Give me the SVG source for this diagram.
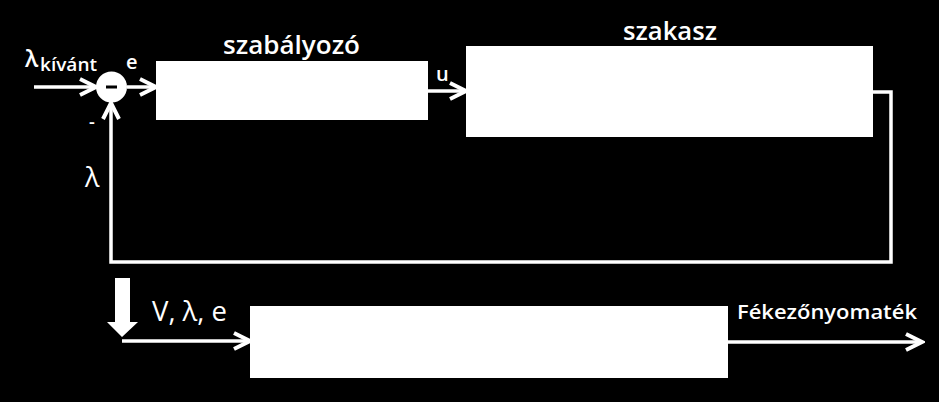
<svg xmlns="http://www.w3.org/2000/svg" width="939" height="402" viewBox="0 0 939 402">
<defs>
<style>
.box{fill:#fff}
.ln{fill:none;stroke:#fff;stroke-width:3.5}
.t{fill:#fff;font-family:"Open Sans","Noto Sans","DejaVu Sans",sans-serif;font-weight:600}
.tn{fill:#fff;font-family:"Open Sans","Noto Sans","DejaVu Sans",sans-serif}
</style>
<marker id="ah" markerUnits="userSpaceOnUse" markerWidth="22" markerHeight="22" viewBox="0 0 22 22" refX="19" refY="11" orient="auto">
<path d="M3,3 L19,11 L3,19" fill="none" stroke="#fff" stroke-width="4"/>
</marker>
</defs>
<rect width="939" height="402" fill="#000"/>
<g id="connectors">
<path class="ln" d="M34,87 L96,87" marker-end="url(#ah)"/>
<path class="ln" d="M127,87 L156,87" marker-end="url(#ah)"/>
<path class="ln" d="M428,91 L466,91" marker-end="url(#ah)"/>
<path class="ln" d="M873,92 L891,92 L891,262 L111,262 L111,103" marker-end="url(#ah)"/>
<path class="ln" d="M122,341 L250,341" marker-end="url(#ah)"/>
<path class="ln" d="M728,342 L922,342" marker-end="url(#ah)"/>
<polygon id="bigarrow" points="115,278 130,278 130,322 138,322 122,337 107,322 115,322" fill="#fff"/>
</g>
<g id="sum">
<circle cx="111.5" cy="87" r="15.5" fill="#fff"/>
<rect x="106" y="85.5" width="11" height="3" fill="#000"/>
</g>
<g id="szabalyozo">
<rect class="box" x="156" y="61" width="272" height="59"/>
<text class="t" x="223" y="54" font-size="25" textLength="137" lengthAdjust="spacingAndGlyphs">szabályozó</text>
</g>
<g id="szakasz">
<rect class="box" x="466" y="46" width="407" height="91"/>
<text class="t" x="623" y="40" font-size="25" textLength="94" lengthAdjust="spacingAndGlyphs">szakasz</text>
</g>
<g id="block3">
<rect class="box" x="250" y="306" width="478" height="72"/>
</g>
<g id="labels">
<text class="t" x="25" y="67" font-size="23">λ</text>
<text class="t" x="40" y="71" font-size="18" textLength="57" lengthAdjust="spacingAndGlyphs">kívánt</text>
<text class="t" x="126" y="69" font-size="20">e</text>
<text class="t" x="89" y="128" font-size="18">-</text>
<text class="tn" x="85" y="187" font-size="27">λ</text>
<text class="t" x="436" y="81" font-size="20">u</text>
<text class="tn" x="152" y="321" font-size="28" textLength="75" lengthAdjust="spacingAndGlyphs">V, λ, e</text>
<text class="t" x="737" y="319" font-size="20" textLength="180" lengthAdjust="spacingAndGlyphs">Fékezőnyomaték</text>
</g>
</svg>
